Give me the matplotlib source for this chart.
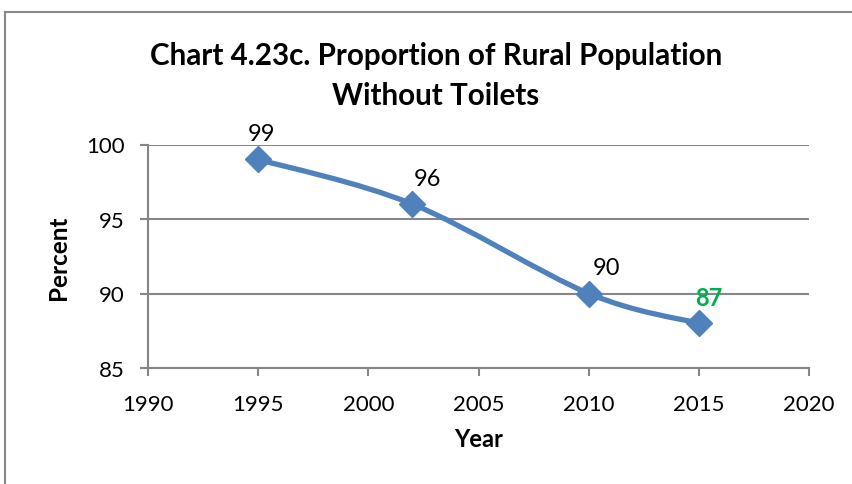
import numpy as np
import matplotlib.pyplot as plt
from matplotlib.path import Path
from matplotlib.patches import PathPatch, Rectangle

plt.rcParams['font.family'] = ['Lato', 'DejaVu Sans']

years = [1995, 2002, 2010, 2015]
percent = [99, 96, 90, 88]
labels = ['99', '96', '90', '87']
label_colors = ['black', 'black', 'black', '#00B050']
label_weights = ['normal', 'normal', 'normal', 'bold']
label_dx = [3, 15, 18, 10]  # pixels, label nudges as in the original

x_ticks = [1990, 1995, 2000, 2005, 2010, 2015, 2020]
y_ticks = [85, 90, 95, 100]

line_color = '#4F81BD'
grid_color = '#868686'


def smooth_path(xs, ys):
    # excel style smoothing: cubic bezier with catmull-rom control points
    pts = np.column_stack([xs, ys]).astype(float)
    n = len(pts)
    verts = [pts[0]]
    codes = [Path.MOVETO]
    for i in range(n - 1):
        p0 = pts[i - 1] if i > 0 else pts[i]
        p1 = pts[i]
        p2 = pts[i + 1]
        p3 = pts[i + 2] if i + 2 < n else pts[i + 1]
        c1 = p1 + (p2 - p0) / 6.0
        c2 = p2 - (p3 - p1) / 6.0
        verts += [c1, c2, p2]
        codes += [Path.CURVE4] * 3
    return Path(verts, codes)


fig = plt.figure(figsize=(8.52, 4.85), dpi=100)
fig.patches.append(Rectangle((5 / 852, -0.1), 1.2, 1 - 13 / 485 + 0.1,
                             transform=fig.transFigure, fill=False,
                             edgecolor='#888888', linewidth=1.5))

ax = fig.add_axes([148 / 852, 1 - 369 / 485, (809 - 148) / 852, (369 - 145.5) / 485])

ax.add_patch(PathPatch(smooth_path(years, percent), facecolor='none',
                       edgecolor=line_color, linewidth=3.8, capstyle='round',
                       zorder=3))
ax.plot(years, percent, linestyle='none', marker='D', markersize=13,
        color=line_color, zorder=4)

for x, y, t, c, w, dx in zip(years, percent, labels, label_colors, label_weights, label_dx):
    ax.annotate(t, (x, y), xytext=(dx, 26), textcoords='offset pixels',
                ha='center', va='center', fontsize=17, color=c, fontweight=w)

ax.set_xlim(1990, 2020)
ax.set_ylim(85, 100)
ax.set_xticks(x_ticks)
ax.set_yticks(y_ticks)
ax.tick_params(labelsize=16, length=6, width=1.5, color=grid_color)
ax.tick_params(axis='y', pad=11)
ax.tick_params(axis='x', pad=13)
ax.grid(axis='y', color=grid_color, linewidth=1.5)
ax.set_axisbelow(True)
for s in ['top', 'right']:
    ax.spines[s].set_visible(False)
for s in ['left', 'bottom']:
    ax.spines[s].set_color(grid_color)
    ax.spines[s].set_linewidth(1.5)

ax.set_xlabel('Year', fontsize=17, fontweight='bold', labelpad=9)
ax.set_ylabel('Percent', fontsize=17.5, fontweight='bold', labelpad=11)
fig.text(436 / 852, 1 - 76 / 485, 'Chart 4.23c. Proportion of Rural Population\nWithout Toilets',
         ha='center', va='center', fontsize=21.3, fontweight='bold', linespacing=1.55)

fig.savefig('out.png', dpi=100)
